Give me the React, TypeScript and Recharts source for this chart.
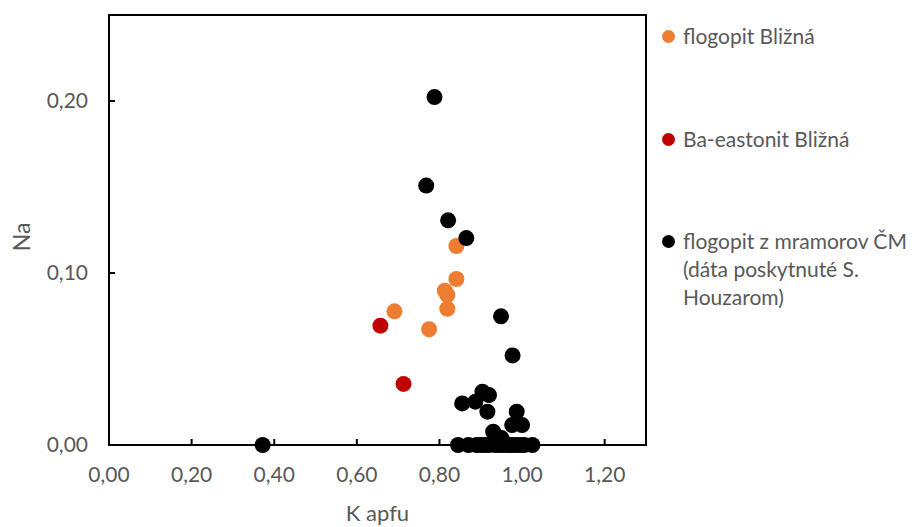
import { Label, Legend, ReferenceArea, Scatter, ScatterChart, XAxis, YAxis } from 'recharts';

// K apfu (x) vs Na (y)
const flogopitK = [0.841, 0.841, 0.813, 0.819, 0.819, 0.691, 0.775];
const flogopitNa = [0.1157, 0.0965, 0.0897, 0.0872, 0.0792, 0.0777, 0.0673];

const eastonitK = [0.657, 0.713];
const eastonitNa = [0.0694, 0.0355];

const mramorK = [
  0.372, 0.788, 0.768, 0.821, 0.865, 0.949, 0.977, 0.855, 0.904, 0.92, 0.887, 0.916, 0.987, 0.976, 1.0, 0.93,
  0.95, 0.845, 0.87, 0.89, 0.9, 0.91, 0.92, 0.935, 0.945, 0.955, 0.965, 0.975, 0.985, 0.995, 1.005, 1.025,
];
const mramorNa = [
  0, 0.2023, 0.1508, 0.1306, 0.1203, 0.0748, 0.0521, 0.0242, 0.031, 0.029, 0.0252, 0.0194, 0.0194, 0.0116, 0.0116,
  0.0077, 0.004, 0, 0, 0, 0, 0, 0, 0, 0, 0, 0, 0, 0, 0, 0, 0,
];

const xTicks = [0, 0.2, 0.4, 0.6, 0.8, 1.0, 1.2];
const yTicks = [0, 0.1, 0.2];

const seriesNames = ['flogopit Bližná', 'Ba-eastonit Bližná', 'flogopit z mramorov ČM'];
const legendLines = [['flogopit Bližná'], ['Ba-eastonit Bližná'], ['flogopit z mramorov ČM', '(dáta poskytnuté S.', 'Houzarom)']];
const seriesColors = ['#ED7D31', '#C00000', '#000000'];

const toPoints = (xs: number[], ys: number[]) => xs.map((k, i) => ({ k, na: ys[i] }));

const FONT = 'Lato, "Open Sans", sans-serif';
const GREY = '#595959';

const fmt = (v: number) => v.toFixed(2).replace('.', ',');

function dot(color: string) {
  return (props: any) => <circle cx={props.cx} cy={props.cy} r={8} fill={color} />;
}

function LegendBox() {
  const tops = [22, 125, 227];
  return (
    <div style={{ position: 'relative', width: 259, height: 320, fontFamily: FONT, fontSize: 21, color: GREY }}>
      {legendLines.map((lines, i) => (
        <div key={i} style={{ position: 'absolute', left: 0, top: tops[i], lineHeight: '28px' }}>
          <span
            style={{
              position: 'absolute',
              left: 0,
              top: 8,
              width: 13,
              height: 13,
              borderRadius: '50%',
              background: seriesColors[i],
            }}
          />
          <div style={{ marginLeft: 21, whiteSpace: 'nowrap' }}>
            {lines.map((l, j) => (
              <div key={j}>{l}</div>
            ))}
          </div>
        </div>
      ))}
    </div>
  );
}

function NaLabel(props: any) {
  const vb = props.viewBox;
  const x = vb.x + 21;
  const y = vb.y + vb.height / 2 + 7;
  return (
    <text x={x} y={y} transform={`rotate(-90 ${x} ${y})`} textAnchor="middle" dominantBaseline="central" fill={GREY} fontSize={23} fontFamily={FONT}>
      Na
    </text>
  );
}

export default function App() {
  return (
    <div style={{ position: 'absolute', left: 0, top: 0, width: 921, height: 527, background: '#fff' }}>
      <ScatterChart width={921} height={527} margin={{ top: 15, right: 275, bottom: 0, left: 0 }}>
        <ReferenceArea x1={0} x2={1.3} y1={0} y2={0.25} fill="none" stroke="#000" strokeWidth={2} fillOpacity={0} />
        <XAxis
          type="number"
          dataKey="k"
          domain={[0, 1.3]}
          ticks={xTicks}
          tickFormatter={fmt}
          height={82}
          axisLine={{ stroke: '#000', strokeWidth: 2 }}
          tickLine={{ stroke: '#000', strokeWidth: 2 }}
          tickSize={-6}
          tickMargin={28}
          tick={{ fill: GREY, fontSize: 21, fontFamily: FONT }}
        >
          <Label value="K apfu" position="insideBottom" offset={6} fill={GREY} fontSize={22} fontFamily={FONT} />
        </XAxis>
        <YAxis
          type="number"
          dataKey="na"
          domain={[0, 0.25]}
          ticks={yTicks}
          tickFormatter={fmt}
          width={109}
          axisLine={{ stroke: '#000', strokeWidth: 2 }}
          tickLine={{ stroke: '#000', strokeWidth: 2 }}
          tickSize={-6}
          tickMargin={27}
          tick={{ fill: GREY, fontSize: 21, fontFamily: FONT }}
        >
          <Label content={NaLabel} />
        </YAxis>
        <Scatter name={seriesNames[0]} data={toPoints(flogopitK, flogopitNa)} fill={seriesColors[0]} shape={dot(seriesColors[0])} isAnimationActive={false} />
        <Scatter name={seriesNames[1]} data={toPoints(eastonitK, eastonitNa)} fill={seriesColors[1]} shape={dot(seriesColors[1])} isAnimationActive={false} />
        <Scatter name={seriesNames[2]} data={toPoints(mramorK, mramorNa)} fill={seriesColors[2]} shape={dot(seriesColors[2])} isAnimationActive={false} />
        <Legend
          layout="vertical"
          align="center"
          verticalAlign="middle"
          content={() => <LegendBox />}
          wrapperStyle={{ left: 662, top: 0, width: 259, height: 320 }}
        />
      </ScatterChart>
    </div>
  );
}
